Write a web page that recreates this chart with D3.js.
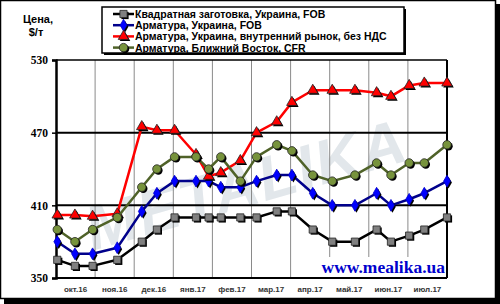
<!DOCTYPE html>
<html><head><meta charset="utf-8">
<script src="https://cdn.jsdelivr.net/npm/d3@7"></script>
<style>body{margin:0;background:#fff}svg{display:block}</style>
</head><body>
<svg id="c" width="500" height="304"></svg>
<script>
const dates = ["2016-10-02","2016-10-16","2016-10-30","2016-11-18","2016-12-07","2016-12-19","2017-01-02","2017-01-19","2017-01-29","2017-02-07","2017-02-21","2017-03-05","2017-03-21","2017-04-02","2017-04-18","2017-05-03","2017-05-21","2017-06-07","2017-06-18","2017-07-02","2017-07-14","2017-08-01"];
const billet   = [365,360,360,365,380,390,400,400,400,400,400,400,405,405,390,380,380,390,380,385,390,400];
const rebarFob = [380,370,370,375,405,420,430,430,430,425,425,430,435,435,420,410,410,420,410,415,420,430];
const rebarDom = [402,402,401,403,475,472,472,452,434,437,447,470,479,495,505,505,505,503,500,509,511,511];
const rebarME  = [390,380,390,400,425,440,450,450,440,450,430,450,460,455,435,430,435,445,435,445,445,460];
const monthLabels = ["окт.16","ноя.16","дек.16","янв.17","фев.17","мар.17","апр.17","май.17","июн.17","июл.17"];
const yTicks = [350,410,470,530];
const seriesNames = ["Квадратная заготовка, Украина, FOB","Арматура, Украина, FOB","Арматура, Украина, внутренний рынок, без НДС","Арматура, Ближний Восток, CFR"];

const svg = d3.select("#c");
const L=56, R=447, T=60, B=278;
// month position (0 = start of Oct 2016)
function monthPos(s){
  const d = new Date(s+"T00:00:00");
  const y=d.getFullYear(), m=d.getMonth();
  const dim = new Date(y, m+1, 0).getDate();
  return (y-2016)*12 + m - 9 + (d.getDate()-1)/dim;
}
const x = d3.scaleLinear().domain([0, monthLabels.length]).range([L,R]);
const y = d3.scaleLinear().domain([350,530]).range([B,T]);

// frame with shadow
svg.append("rect").attr("x",4).attr("y",4).attr("width",496).attr("height",300).attr("fill","#000");
svg.append("rect").attr("x",0.5).attr("y",0.5).attr("width",495).attr("height",298).attr("fill","#fff").attr("stroke","#000").attr("stroke-width",1.5);

// watermark
svg.append("text").attr("transform","translate(252,205) rotate(-16)")
  .attr("text-anchor","middle").attr("font-family","Liberation Sans").attr("font-weight","bold")
  .attr("font-style","italic").attr("font-size",62).attr("fill","#e2e7eb").attr("letter-spacing",2)
  .text("METALIKA");

// vertical grid at month boundaries
const g = svg.append("g");
g.selectAll("line.v").data(d3.range(1, monthLabels.length)).join("line")
  .attr("x1",d=>x(d)).attr("x2",d=>x(d)).attr("y1",T).attr("y2",B)
  .attr("stroke","#8a8a8a").attr("stroke-width",1);
// horizontal grid
g.selectAll("line.h").data([410,470]).join("line")
  .attr("x1",L).attr("x2",R).attr("y1",d=>y(d)).attr("y2",d=>y(d))
  .attr("stroke","#000").attr("stroke-width",2);

// url with white box
svg.append("rect").attr("x",318).attr("y",257).attr("width",129).attr("height",20).attr("fill","#fff");
svg.append("text").attr("x",445).attr("y",273).attr("text-anchor","end")
  .attr("font-family","Liberation Serif").attr("font-weight","bold").attr("font-size",17.5)
  .attr("fill","#0000cc").text("www.mealika.ua");

// plot border
svg.append("line").attr("x1",L).attr("x2",R).attr("y1",T).attr("y2",T).attr("stroke","#000").attr("stroke-width",1.5);
svg.append("line").attr("x1",R).attr("x2",R).attr("y1",T).attr("y2",B).attr("stroke","#000").attr("stroke-width",2);
svg.append("line").attr("x1",L).attr("x2",R).attr("y1",B).attr("y2",B).attr("stroke","#000").attr("stroke-width",2);

// y axis
const ya = svg.append("g").attr("transform",`translate(${L},0)`)
  .call(d3.axisLeft(y).tickValues(yTicks).tickSize(4).tickPadding(4));
ya.select(".domain").attr("stroke","#000").attr("stroke-width",2.5);
ya.selectAll(".tick line").attr("stroke","#000").attr("stroke-width",1.5);
ya.selectAll(".tick text").attr("font-family","Liberation Serif").attr("font-weight","bold")
  .attr("font-size",11.5).attr("fill","#000");

// x labels
svg.selectAll("text.mon").data(monthLabels).join("text").attr("class","mon")
  .attr("x",(d,i)=>x(i+0.5)).attr("y",292).attr("text-anchor","middle")
  .attr("font-family","Liberation Sans").attr("font-weight","bold").attr("font-size",8)
  .attr("fill","#333").text(d=>d);

// y title
svg.append("text").attr("x",38).attr("y",23).attr("text-anchor","middle")
  .attr("font-family","Liberation Sans").attr("font-weight","bold").attr("font-size",11).text("Цена,");
svg.append("text").attr("x",36).attr("y",36).attr("text-anchor","middle")
  .attr("font-family","Liberation Sans").attr("font-weight","bold").attr("font-size",11).text("$/т");

// series
const series = [
  {name:seriesNames[0], vals:billet,   line:"#000000", fill:"#808080", sym:d3.symbolSquare,   size:52},
  {name:seriesNames[1], vals:rebarFob, line:"#00008b", fill:"#0000ff", sym:d3.symbolDiamond,  size:40},
  {name:seriesNames[2], vals:rebarDom, line:"#ff0000", fill:"#ff0000", sym:d3.symbolTriangle, size:48},
  {name:seriesNames[3], vals:rebarME,  line:"#4f6228", fill:"#77933c", sym:d3.symbolCircle,   size:56}
];
const xs = dates.map(monthPos);
const lineGen = d3.line().x(d=>x(d[0])).y(d=>y(d[1]));
function drawMarker(sel, s, cx, cy){
  const p = d3.symbol().type(s.sym).size(s.size)();
  sel.append("path").attr("d",p).attr("transform",`translate(${cx+1.5},${cy+1.5})`).attr("fill","#000");
  sel.append("path").attr("d",p).attr("transform",`translate(${cx},${cy})`)
    .attr("fill",s.fill).attr("stroke", s.sym===d3.symbolDiamond ? "#0000cc" : "#222").attr("stroke-width",0.8);
}
series.forEach(s=>{
  const pts = xs.map((xv,i)=>[xv, s.vals[i]]);
  svg.append("path").attr("d",lineGen(pts)).attr("fill","none").attr("stroke",s.line).attr("stroke-width",2.5)
    .attr("stroke-linejoin","round");
  const mg = svg.append("g");
  pts.forEach(p=>drawMarker(mg, s, x(p[0]), y(p[1])));
});

// legend
const lgX=102, lgY=7, lgW=302, lgH=46;
svg.append("rect").attr("x",lgX+2).attr("y",lgY+2).attr("width",lgW).attr("height",lgH).attr("fill","#000");
svg.append("rect").attr("x",lgX).attr("y",lgY).attr("width",lgW).attr("height",lgH).attr("fill","#fff").attr("stroke","#000").attr("stroke-width",1.5);
series.forEach((s,i)=>{
  const cy = lgY + 7 + i*11.2;
  const lg = svg.append("g");
  lg.append("line").attr("x1",113).attr("x2",134).attr("y1",cy).attr("y2",cy).attr("stroke",s.line).attr("stroke-width",2.5);
  drawMarker(lg, s, 123.5, cy);
  lg.append("text").attr("x",135).attr("y",cy+4).attr("font-family","Liberation Sans").attr("font-weight","bold")
    .attr("font-size",10.5).attr("fill","#000").text(s.name);
});
</script>
</body></html>
